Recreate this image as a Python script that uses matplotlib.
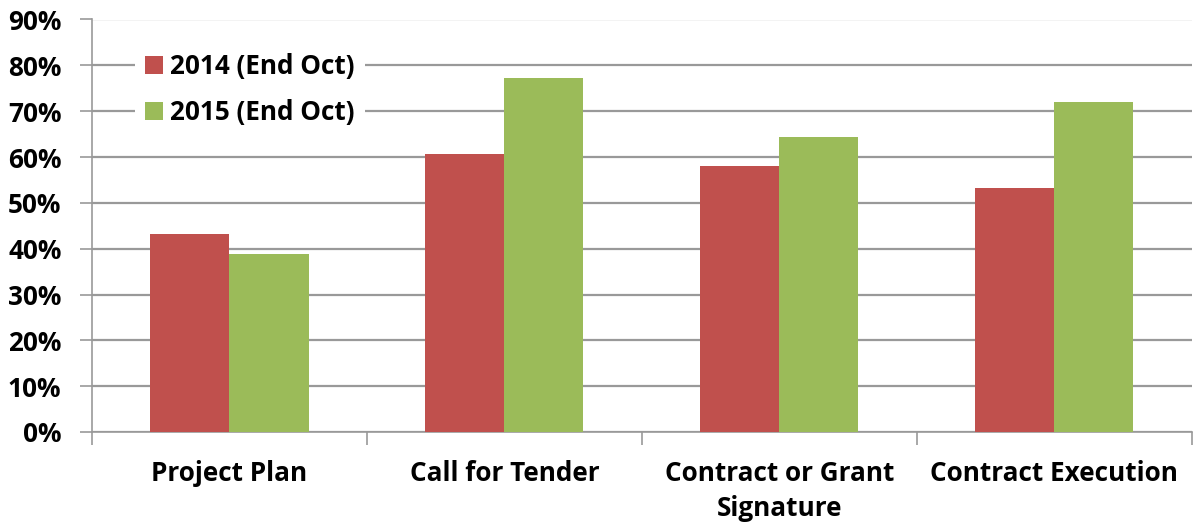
import matplotlib
matplotlib.use("Agg")
import matplotlib.pyplot as plt
import numpy as np
from matplotlib.ticker import FuncFormatter, FixedLocator

categories = ["Project Plan", "Call for Tender", "Contract or Grant\nSignature", "Contract Execution"]
series_names = ["2014 (End Oct)", "2015 (End Oct)"]
values_2014 = [43.2, 60.6, 58.0, 53.2]
values_2015 = [38.8, 77.3, 64.3, 71.9]
colors = ["#C0504D", "#9BBB59"]

plt.rcParams['font.family'] = ['Open Sans', 'DejaVu Sans']
plt.rcParams['font.weight'] = 'bold'

FS = 18.8

fig = plt.figure(figsize=(11.93, 5.24), dpi=100)
ax = fig.add_axes([92/1193, 1-432/524, (1193-92)/1193 - 0.001, (432-19.5)/524])

x = np.arange(len(categories))
w = 0.2875
ax.bar(x - w/2, values_2014, w, color=colors[0], label=series_names[0], zorder=3)
ax.bar(x + w/2, values_2015, w, color=colors[1], label=series_names[1], zorder=3)

ax.set_xlim(-0.5, len(categories) - 0.5)
ax.set_ylim(0, 90)
ax.set_yticks(np.arange(0, 91, 10))
ax.yaxis.set_major_formatter(FuncFormatter(lambda v, p: f"{int(v)}%"))
ax.grid(axis='y', color='#999999', linewidth=1.6, zorder=0)
ax.set_axisbelow(True)

ax.set_xticks(x)
ax.set_xticklabels(categories, fontsize=FS, fontweight='bold', linespacing=1.38)
ax.xaxis.set_minor_locator(FixedLocator(np.arange(-0.5, len(categories), 1.0)))
ax.tick_params(axis='x', which='major', length=0, pad=20)
ax.tick_params(axis='x', which='minor', length=9, width=1.2, color='#999999')
ax.tick_params(axis='y', length=9, width=1.2, color='#999999', labelsize=FS, pad=13)
for lab in ax.get_yticklabels():
    lab.set_fontweight('bold')

for s in ['top', 'right']:
    ax.spines[s].set_visible(False)
for s in ['left', 'bottom']:
    ax.spines[s].set_color('#999999')
    ax.spines[s].set_linewidth(1.2)

leg = ax.legend(loc='upper left', bbox_to_anchor=(0.027, 0.975), frameon=True, fancybox=False,
                edgecolor='none', facecolor='white', framealpha=1, prop={'size': FS, 'weight': 'bold'},
                handlelength=0.7, handleheight=0.7, handletextpad=0.25, labelspacing=0.72, borderpad=0.4)
leg.set_zorder(5)

fig.savefig("out.png", dpi=100)
